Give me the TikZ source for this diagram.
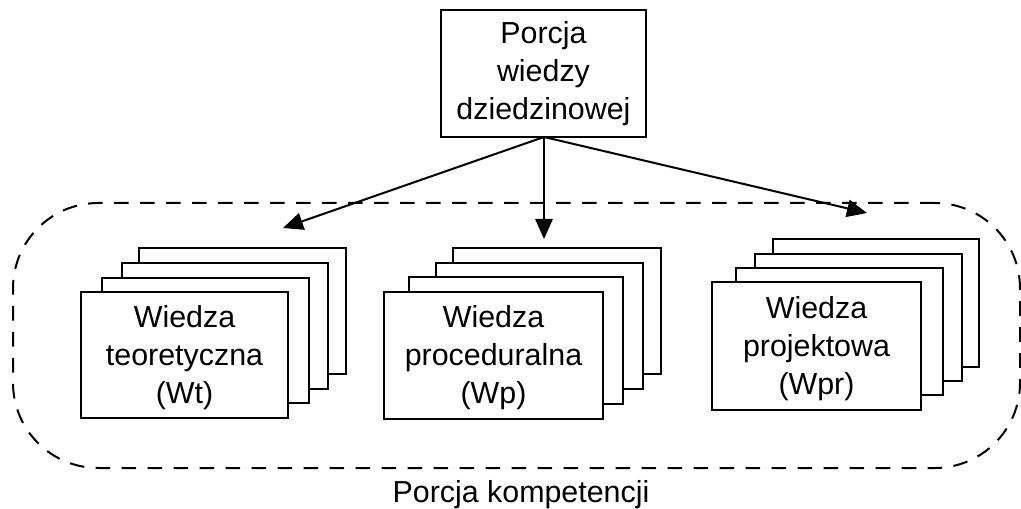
\documentclass[tikz,border=0pt]{standalone}
\usepackage{fontspec}
\setmainfont{Liberation Sans}
\usetikzlibrary{arrows.meta}

% a card with corners (x1,y1) and (x2,y2), given in pixel units
\newcommand\kartka[6]{%
  \node[card, minimum width={(#4-#2)*0.75pt}, minimum height={(#5-#3)*0.75pt}]
    (#1) at ({(#2+#4)/2},{(#3+#5)/2}) {};
  \node (#1-t) at ([yshift=-1.8pt]#1.center) {#6};}

\begin{document}
\begin{tikzpicture}[x=0.75pt, y=-0.75pt,
  every node/.style={font=\fontsize{22.8}{28.4}\selectfont, align=center, inner sep=0pt},
  card/.style={draw, fill=white, line width=1.5pt},
  frame/.style={draw, dashed, line width=1.5pt, dash pattern=on 11pt off 8.5pt, rounded corners=64pt},
  link/.style={line width=1.5pt, -{Triangle[length=15pt, width=13pt]}}]
\useasboundingbox (0,0) rectangle (1021,509);

% group frame
\node[frame, minimum width={1007*0.75pt}, minimum height={265*0.75pt}] (porcja) at (516.5,335.5) {};
\node[anchor=base] (etykieta) at (521,502) {Porcja kompetencji};

% top box
\node[card, minimum width={205*0.75pt}, minimum height={127*0.75pt}] (zrodlo) at (543.5,73.5)
  {Porcja\\wiedzy\\dziedzinowej};

% theoretical knowledge stack
\kartka{wt4}{139}{248}{346}{374}{}
\kartka{wt3}{122}{263}{328}{389}{}
\kartka{wt2}{102}{278}{309}{403}{}
\kartka{wt}{81}{292}{288}{418}{Wiedza\\teoretyczna\\(Wt)}

% procedural knowledge stack
\kartka{wp4}{453}{248}{661}{374}{}
\kartka{wp3}{436}{263}{643}{389}{}
\kartka{wp2}{409}{277}{623}{404}{}
\kartka{wp}{384}{292}{603}{419}{Wiedza\\proceduralna\\(Wp)}

% design knowledge stack
\kartka{wpr4}{773}{239}{979}{367}{}
\kartka{wpr3}{755}{254}{962}{381}{}
\kartka{wpr2}{736}{268}{943}{395}{}
\kartka{wpr}{712}{282}{921}{410}{Wiedza\\projektowa\\(Wpr)}

% arrows
\coordinate (start) at (544,137);
\coordinate (cel1) at (283,228);
\coordinate (cel2) at (544,239);
\coordinate (cel3) at (867,213);
\draw[link] (start) -- (cel1);
\draw[link] (start) -- (cel2);
\draw[link] (start) -- (cel3);
\end{tikzpicture}
\end{document}
